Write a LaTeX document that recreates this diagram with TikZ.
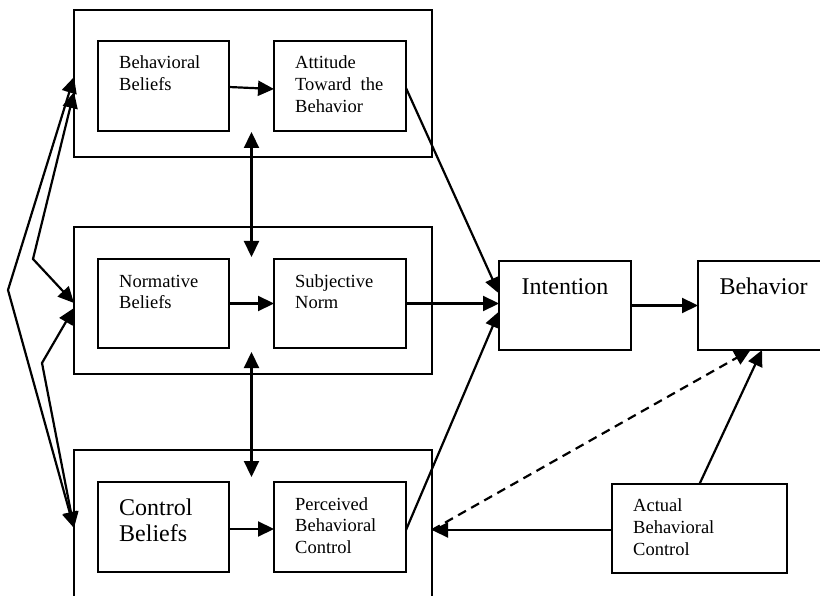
\documentclass[tikz,border=0pt]{standalone}
\usepackage{fontspec}
\setmainfont{Liberation Serif}
\usetikzlibrary{arrows.meta,calc}
\begin{document}
\begin{tikzpicture}[x=1pt,y=-1pt,
  box/.style={draw,line width=1.6pt,inner sep=0pt,outer sep=0pt},
  sm/.style={inner sep=0pt,anchor=base west,font=\fontsize{18.5}{21.7}\selectfont},
  lg/.style={inner sep=0pt,anchor=base west,font=\fontsize{24}{26.7}\selectfont},
  lgc/.style={inner sep=0pt,anchor=base,font=\fontsize{24}{26.7}\selectfont},
  arr/.style={line width=2.2pt,-{Triangle[length=16pt,width=15pt]}},
  dbl/.style={line width=2.2pt,{Triangle[length=16pt,width=15pt]}-{Triangle[length=16pt,width=15pt]},line join=miter}]
\useasboundingbox (0,0) rectangle (820,596);
\clip (0,0) rectangle (820,596);
% outer boxes
\node[box,minimum width=358pt,minimum height=147pt] (O1) at (253,83.5) {};
\node[box,minimum width=358pt,minimum height=147pt] (O2) at (253,300.5) {};
\node[box,minimum width=358pt,minimum height=170pt] (O3) at (253,535) {};
% inner boxes
\node[box,minimum width=131pt,minimum height=90pt] (BB) at (163.5,86) {};
\node[box,minimum width=132pt,minimum height=90pt] (ATT) at (340,86) {};
\node[box,minimum width=131pt,minimum height=89pt] (NB) at (163.5,303.5) {};
\node[box,minimum width=132pt,minimum height=89pt] (SN) at (340,303.5) {};
\node[box,minimum width=131pt,minimum height=90pt] (CB) at (163.5,527) {};
\node[box,minimum width=132pt,minimum height=90pt] (PBC) at (340,527) {};
\node[box,minimum width=132pt,minimum height=89pt] (INT) at (565,305.5) {};
\node[box,minimum width=131pt,minimum height=89pt] (BEH) at (763.5,305.5) {};
\node[box,minimum width=175pt,minimum height=89pt] (ABC) at (699.5,528.5) {};
% texts
\node[sm] (tBB) at (119,69) {\begin{tabular}[t]{@{}l@{}}Behavioral\\Beliefs\end{tabular}};
\node[sm] (tATT) at (295,69) {\begin{tabular}[t]{@{}l@{}}Attitude\\Toward~~the\\Behavior\end{tabular}};
\node[sm] (tNB) at (119,287.3) {\begin{tabular}[t]{@{}l@{}}Normative\\Beliefs\end{tabular}};
\node[sm] (tSN) at (295,287.3) {\begin{tabular}[t]{@{}l@{}}Subjective\\Norm\end{tabular}};
\node[lg] (tCB) at (119,515) {\begin{tabular}[t]{@{}l@{}}Control\\Beliefs\end{tabular}};
\node[sm] (tPBC) at (295,510) {\begin{tabular}[t]{@{}l@{}}Perceived\\Behavioral\\Control\end{tabular}};
\node[lgc] (tINT) at (565,294.3) {Intention};
\node[lgc] (tBEH) at (763.5,294.3) {Behavior};
\node[sm] (tABC) at (633,511.7) {\begin{tabular}[t]{@{}l@{}}Actual\\Behavioral\\Control\end{tabular}};
% horizontal arrows inside rows
\draw[arr] ([yshift=-1pt]BB.east) -- ([yshift=-3pt]ATT.west);
\draw[arr] (NB.east) -- (SN.west);
\draw[arr] ([yshift=-2pt]CB.east) -- ([yshift=-2pt]PBC.west);
% into Intention
\draw[arr] ([yshift=-2pt]ATT.east) -- ([yshift=12pt]INT.west);
\draw[arr] (SN.east) -- (SN.east -| INT.west);
\draw[arr] ([yshift=-3pt]PBC.east) -- ([yshift=-6pt]INT.west);
\draw[arr] (INT.east) -- (BEH.west);
% actual behavioral control
\draw[arr] (ABC.north) -- ([xshift=-1.5pt]BEH.south);
\draw[arr] ([yshift=-1.5pt]ABC.west) -- ([yshift=-1.5pt]ABC.west -| O3.east);
\draw[line width=2.2pt,dash pattern=on 9pt off 6pt,-{Triangle[length=16pt,width=15pt]}] ([yshift=-1.5pt]ABC.west -| O3.east) -- ([xshift=-13pt]BEH.south);
% vertical double arrows
\draw[dbl] ($(BB.south east)!0.5!(ATT.south west)+(0,1)$) -- ($(NB.north east)!0.5!(SN.north west)+(0,-2)$);
\draw[dbl] ($(NB.south east)!0.5!(SN.south west)+(0,4)$) -- ($(CB.north east)!0.5!(PBC.north west)+(0,-5)$);
% left chevrons
\coordinate (v1) at (8,290);
\coordinate (v2) at (33,259);
\coordinate (v3) at (42,363);
\draw[dbl] ([yshift=6.5pt]O1.west) -- (v1) -- ([yshift=7pt]O3.west);
\draw[dbl] ([yshift=-8.5pt]O1.west) -- (v2) -- ([yshift=-2.5pt]O2.west);
\draw[dbl] ([yshift=-7.5pt]O2.west) -- (v3) -- ([yshift=7pt]O3.west);
\end{tikzpicture}
\end{document}
